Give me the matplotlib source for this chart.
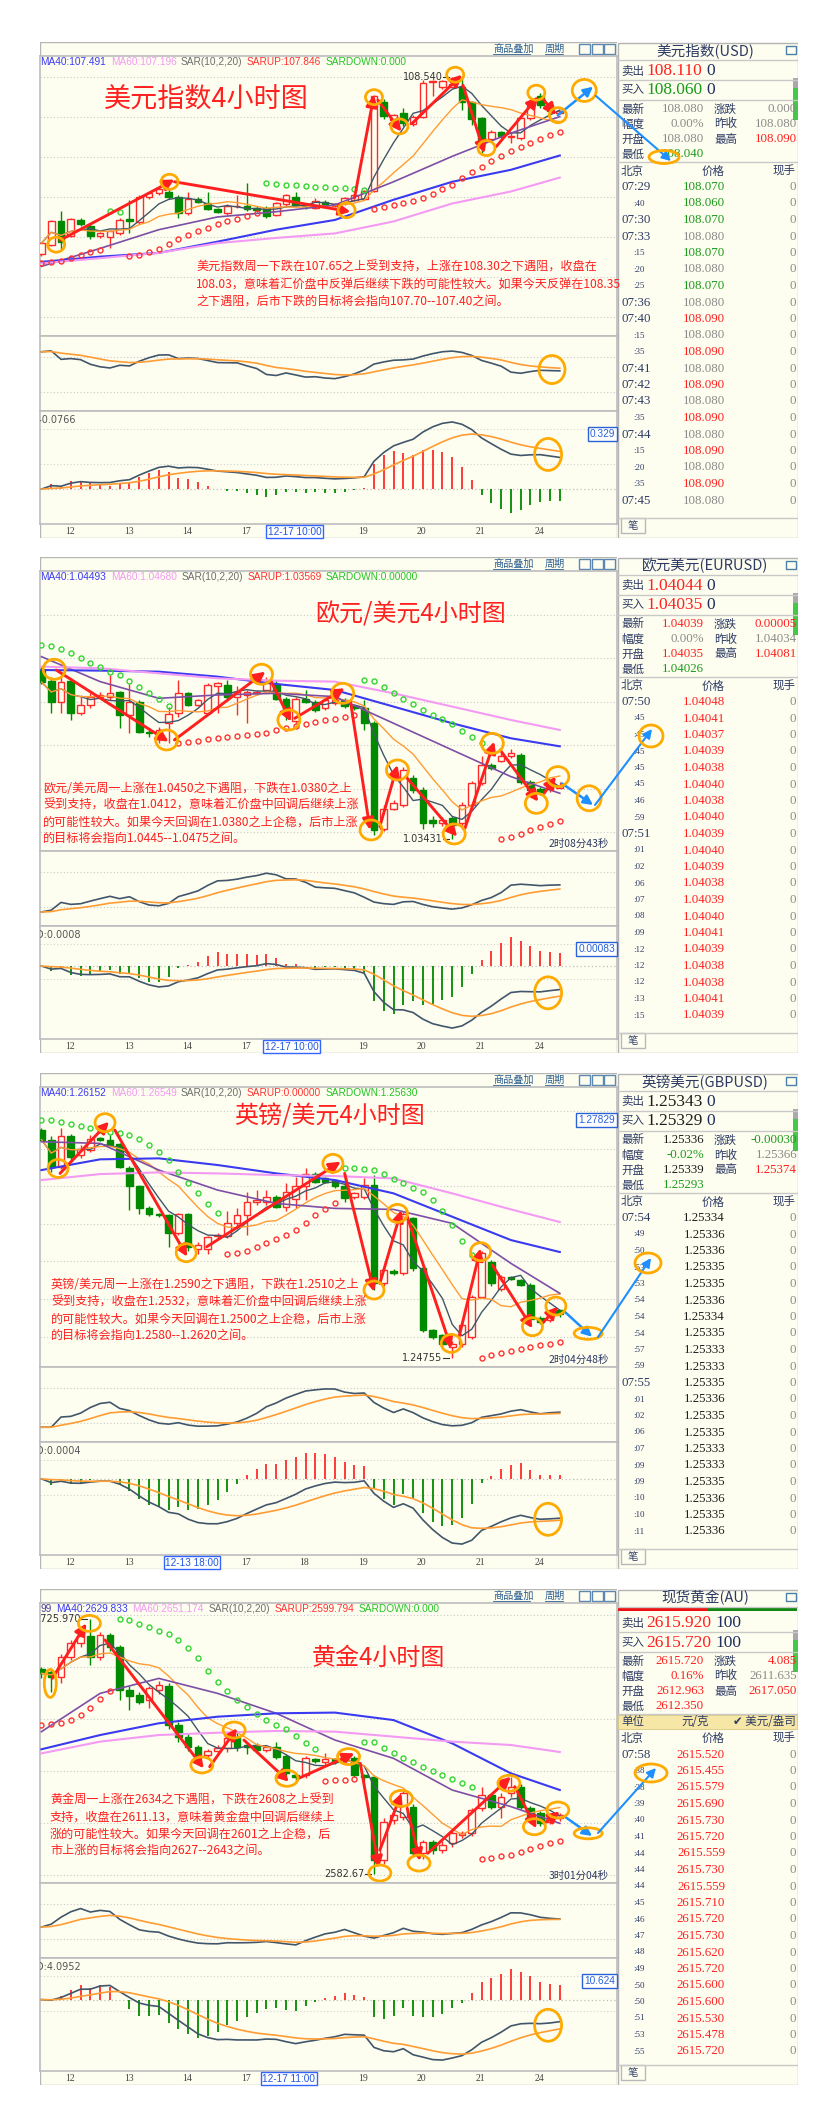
import numpy as np
import pandas as pd
import matplotlib
matplotlib.use("Agg")
import matplotlib.pyplot as plt
from matplotlib.patches import Rectangle, Ellipse, FancyArrowPatch
from matplotlib.transforms import ScaledTranslation

plt.rcParams['font.family'] = ['Noto Sans CJK SC', 'DejaVu Sans']
plt.rcParams['axes.unicode_minus'] = False

# ============================ DATA ============================
ma_idx = [0, 6, 12, 18, 24, 30, 36, 42, 48, 53]

# ---- US dollar index, 4h ----
usd_open = [106.17, 106.30, 106.62, 106.42, 106.63, 106.55, 106.41, 106.40, 106.45, 106.64,
            106.60, 106.93, 106.99, 107.00, 106.94, 106.72, 106.91, 106.86, 106.77, 106.72,
            106.81, 106.81, 106.79, 106.79, 106.70, 106.84, 106.93, 106.83, 106.79, 106.87,
            106.82, 106.85, 106.90, 106.91, 107.02, 108.21, 107.96, 108.06, 107.91, 108.01,
            108.47, 108.40, 108.41, 108.41, 108.20, 107.99, 107.71, 107.80, 107.74, 107.72,
            107.99, 108.28, 108.17, 108.06]
usd_close = [106.32, 106.61, 106.34, 106.64, 106.57, 106.41, 106.45, 106.48, 106.63, 106.61,
             106.94, 106.99, 107.05, 106.93, 106.72, 106.91, 106.87, 106.77, 106.74, 106.82,
             106.82, 106.77, 106.76, 106.68, 106.85, 106.96, 106.83, 106.81, 106.88, 106.83,
             106.84, 106.92, 106.96, 107.02, 108.28, 108.02, 108.03, 107.93, 108.01, 108.46,
             108.48, 108.49, 108.44, 108.21, 107.98, 107.68, 107.80, 107.75, 107.75, 107.99,
             108.17, 108.17, 108.08, 108.08]
usd_high = [106.34, 106.63, 106.75, 106.66, 106.65, 106.57, 106.47, 106.50, 106.65, 106.90,
            106.96, 107.01, 107.07, 107.05, 106.96, 107.01, 106.93, 107.01, 106.79, 106.84,
            106.96, 107.12, 106.81, 106.81, 106.87, 106.98, 107.01, 106.86, 106.92, 106.89,
            106.86, 106.94, 106.98, 107.025, 108.30, 108.25, 108.05, 108.12, 108.03, 108.50,
            108.50, 108.50, 108.54, 108.53, 108.22, 108.01, 107.83, 107.82, 107.80, 108.01,
            108.20, 108.33, 108.19, 108.09]
usd_low = [106.15, 106.28, 106.23, 106.40, 106.55, 106.38, 106.39, 106.25, 106.43, 106.45,
           106.58, 106.91, 106.97, 106.91, 106.65, 106.70, 106.85, 106.76, 106.72, 106.70,
           106.79, 106.75, 106.74, 106.66, 106.68, 106.82, 106.81, 106.78, 106.77, 106.81,
           106.80, 106.83, 106.88, 106.89, 107.00, 107.98, 107.94, 107.88, 107.89, 107.99,
           108.28, 108.38, 108.39, 108.10, 107.90, 107.52, 107.69, 107.73, 107.66, 107.70,
           107.97, 108.12, 108.05, 108.04]
usd_ma20 = [106.01, 106.25, 106.50, 106.67, 106.74, 106.83, 107.14, 107.48, 107.79, 108.01]
usd_ma40 = [106.07, 106.14, 106.19, 106.34, 106.50, 106.63, 106.90, 107.14, 107.30, 107.491]
usd_ma60 = [106.05, 106.12, 106.19, 106.32, 106.39, 106.45, 106.61, 106.85, 107.01, 107.196]
usd_sar_first = 106.06
usd_sar_up, usd_sar_down = 107.846, 0.0

# ---- EUR/USD, 4h ----
eur_open = [1.0537, 1.0524, 1.0500, 1.0524, 1.0487, 1.0497, 1.0506, 1.0506, 1.0511, 1.0485,
            1.0500, 1.0466, 1.0464, 1.0476, 1.0487, 1.0510, 1.0497, 1.0488, 1.0518, 1.0519,
            1.0506, 1.0508, 1.0510, 1.0514, 1.0521, 1.0504, 1.0478, 1.0504, 1.0500, 1.0493,
            1.0499, 1.0502, 1.0495, 1.0493, 1.0476, 1.0355, 1.0378, 1.0382, 1.0413, 1.0399,
            1.0365, 1.0361, 1.0367, 1.0361, 1.0382, 1.0407, 1.0428, 1.0433, 1.0438, 1.0439,
            1.0409, 1.0400, 1.0400, 1.0401]
eur_close = [1.0523, 1.0500, 1.0523, 1.0488, 1.0497, 1.0506, 1.0508, 1.0510, 1.0485, 1.0500,
             1.0466, 1.0464, 1.0468, 1.0486, 1.0510, 1.0497, 1.0502, 1.0520, 1.0522, 1.0506,
             1.0511, 1.0512, 1.0512, 1.0522, 1.0504, 1.0489, 1.0504, 1.0500, 1.0491, 1.0502,
             1.0502, 1.0495, 1.0493, 1.0476, 1.0353, 1.0378, 1.0384, 1.0422, 1.0399, 1.0361,
             1.0361, 1.0365, 1.0359, 1.0382, 1.0407, 1.0428, 1.0424, 1.0438, 1.0442, 1.0409,
             1.0399, 1.0397, 1.0405, 1.04039]
eur_high = [1.0540, 1.0529, 1.0529, 1.0527, 1.0508, 1.0510, 1.0511, 1.0531, 1.0513, 1.0521,
            1.0502, 1.0470, 1.0471, 1.0494, 1.0525, 1.0512, 1.0504, 1.0522, 1.0523, 1.0525,
            1.0518, 1.0514, 1.0514, 1.0529, 1.0525, 1.0506, 1.0506, 1.0514, 1.0502, 1.0504,
            1.0506, 1.0505, 1.0497, 1.0502, 1.0478, 1.0382, 1.0388, 1.0426, 1.0417, 1.0403,
            1.0369, 1.0368, 1.0369, 1.0385, 1.0410, 1.0438, 1.0430, 1.0442, 1.0446, 1.0442,
            1.0411, 1.0403, 1.0410, 1.04081]
eur_low = [1.0521, 1.0488, 1.0487, 1.0480, 1.0485, 1.0493, 1.0504, 1.0502, 1.0470, 1.0464,
           1.0464, 1.0460, 1.0453, 1.0453, 1.0483, 1.0495, 1.0495, 1.0486, 1.0487, 1.0504,
           1.0485, 1.0476, 1.0508, 1.0512, 1.0502, 1.0480, 1.0476, 1.0499, 1.0489, 1.0491,
           1.0497, 1.0493, 1.0491, 1.0468, 1.0348, 1.0352, 1.0376, 1.0380, 1.0396, 1.0355,
           1.0357, 1.0358, 1.03431, 1.0355, 1.0380, 1.0405, 1.0422, 1.0431, 1.0436, 1.0406,
           1.0396, 1.0394, 1.0397, 1.04026]
eur_ma20 = [1.05520, 1.05234, 1.05043, 1.05081, 1.05100, 1.05062, 1.04757, 1.04451, 1.04146, 1.03955]
eur_ma40 = [1.05367, 1.05360, 1.05348, 1.05291, 1.05207, 1.05138, 1.04948, 1.04757, 1.04585, 1.04493]
eur_ma60 = [1.05406, 1.05387, 1.05329, 1.05272, 1.05245, 1.05234, 1.05100, 1.04948, 1.04795, 1.04680]
eur_sar_first = 1.0565
eur_sar_up, eur_sar_down = 1.03569, 0.0

# ---- GBP/USD, 4h ----
gbp_open = [1.2777, 1.2764, 1.2728, 1.2769, 1.2744, 1.2750, 1.2766, 1.2763, 1.2758, 1.2727,
            1.2703, 1.2674, 1.2665, 1.2664, 1.2640, 1.2665, 1.2619, 1.2619, 1.2636, 1.2636,
            1.2654, 1.2664, 1.2682, 1.2682, 1.2688, 1.2675, 1.2686, 1.2702, 1.2719, 1.2713,
            1.2710, 1.2702, 1.2688, 1.2688, 1.2704, 1.2574, 1.2590, 1.2587, 1.2660, 1.2594,
            1.2512, 1.2505, 1.2490, 1.2494, 1.2503, 1.2556, 1.2602, 1.2566, 1.2582, 1.2578,
            1.2572, 1.2528, 1.2525, 1.2538]
gbp_close = [1.2764, 1.2728, 1.2769, 1.2741, 1.2752, 1.2765, 1.2764, 1.2757, 1.2728, 1.2703,
             1.2673, 1.2665, 1.2664, 1.2641, 1.2665, 1.2622, 1.2625, 1.2635, 1.2638, 1.2654,
             1.2664, 1.2682, 1.2684, 1.2688, 1.2675, 1.2695, 1.2703, 1.2719, 1.2708, 1.2708,
             1.2702, 1.2687, 1.2693, 1.2704, 1.2574, 1.2591, 1.2588, 1.2666, 1.2594, 1.2512,
             1.2503, 1.2494, 1.2494, 1.2519, 1.2556, 1.2614, 1.2574, 1.2582, 1.2580, 1.2572,
             1.2527, 1.2523, 1.2536, 1.25336]
gbp_high = [1.2779, 1.2769, 1.2779, 1.2771, 1.2757, 1.2770, 1.2768, 1.2770, 1.2759, 1.2729,
            1.2704, 1.2676, 1.2667, 1.2666, 1.2667, 1.2667, 1.2628, 1.2637, 1.2640, 1.2669,
            1.2673, 1.2695, 1.2697, 1.2697, 1.2690, 1.2706, 1.2715, 1.2727, 1.2721, 1.2715,
            1.2712, 1.2717, 1.2695, 1.2713, 1.2717, 1.2593, 1.2593, 1.2668, 1.2662, 1.2596,
            1.2514, 1.2507, 1.2497, 1.2521, 1.2558, 1.2617, 1.2604, 1.2585, 1.2584, 1.2580,
            1.2574, 1.2530, 1.2538, 1.25374]
gbp_low = [1.2762, 1.2721, 1.2725, 1.2735, 1.2740, 1.2748, 1.2762, 1.2755, 1.2726, 1.2671,
           1.2666, 1.2663, 1.2662, 1.2622, 1.2638, 1.2617, 1.2613, 1.2613, 1.2634, 1.2634,
           1.2645, 1.2638, 1.2677, 1.2677, 1.2673, 1.2669, 1.2673, 1.2684, 1.2706, 1.2706,
           1.2700, 1.2682, 1.2686, 1.2686, 1.2565, 1.2570, 1.2585, 1.2585, 1.2590, 1.2510,
           1.2500, 1.2491, 1.24755, 1.2490, 1.2500, 1.2554, 1.2570, 1.2563, 1.2578, 1.2570,
           1.2524, 1.2520, 1.2523, 1.25293]
gbp_ma20 = [1.27611, 1.27589, 1.27236, 1.26972, 1.26795, 1.26729, 1.26716, 1.26531, 1.26002, 1.25605]
gbp_ma40 = [1.27236, 1.27378, 1.27391, 1.27303, 1.27192, 1.27104, 1.26928, 1.26619, 1.26310, 1.26152]
gbp_ma60 = [1.27104, 1.27183, 1.27205, 1.27192, 1.27170, 1.27157, 1.27126, 1.26928, 1.26716, 1.26549]
gbp_sar_first = 1.2790
gbp_sar_up, gbp_sar_down = 0.0, 1.25630

# ---- Spot gold, 4h ----
gold_open = [2697.6, 2695.9, 2693.5, 2704.7, 2712.2, 2716.3, 2704.7, 2716.9, 2710.3, 2686.0,
             2683.2, 2680.4, 2686.0, 2688.2, 2666.3, 2659.8, 2654.2, 2649.5, 2651.7, 2653.2,
             2659.8, 2655.1, 2655.1, 2652.3, 2654.2, 2649.1, 2638.3, 2638.3, 2647.2, 2645.4,
             2647.1, 2646.7, 2647.6, 2638.3, 2636.9, 2590.5, 2613.0, 2614.9, 2620.5, 2594.3,
             2600.8, 2596.1, 2599.9, 2604.6, 2605.5, 2619.5, 2627.0, 2620.5, 2628.0, 2631.7,
             2619.5, 2616.7, 2612.0, 2613.9]
gold_close = [2695.4, 2693.5, 2704.7, 2712.6, 2716.3, 2704.7, 2716.9, 2710.3, 2686.0, 2682.6,
              2679.4, 2686.9, 2688.8, 2666.3, 2659.8, 2654.2, 2647.6, 2651.7, 2653.6, 2658.8,
              2654.2, 2654.2, 2652.3, 2654.2, 2648.6, 2639.2, 2636.9, 2647.6, 2646.1, 2647.2,
              2645.7, 2648.6, 2638.3, 2636.9, 2590.5, 2612.0, 2615.8, 2628.0, 2594.3, 2600.8,
              2596.1, 2599.0, 2605.5, 2605.9, 2618.6, 2627.0, 2620.5, 2626.1, 2631.7, 2620.5,
              2614.9, 2611.1, 2613.9, 2615.72]
gold_high = [2699.0, 2697.0, 2706.0, 2714.0, 2720.0, 2725.97, 2718.8, 2718.0, 2711.0, 2688.0,
             2685.0, 2688.0, 2691.0, 2690.0, 2668.0, 2661.0, 2655.0, 2653.0, 2655.0, 2661.0,
             2662.0, 2656.0, 2656.0, 2655.0, 2657.0, 2650.0, 2639.5, 2649.0, 2648.0, 2650.4,
             2648.0, 2650.0, 2649.0, 2639.0, 2638.0, 2614.0, 2617.0, 2630.0, 2622.0, 2602.0,
             2602.0, 2601.0, 2607.0, 2607.0, 2620.0, 2631.7, 2628.0, 2628.0, 2637.0, 2633.0,
             2621.0, 2618.0, 2615.0, 2617.05]
gold_low = [2693.0, 2685.1, 2689.7, 2703.0, 2710.0, 2700.0, 2702.8, 2708.0, 2680.4, 2674.8,
            2678.0, 2676.0, 2684.0, 2664.0, 2657.0, 2652.0, 2645.4, 2647.0, 2650.0, 2651.0,
            2652.0, 2650.0, 2650.5, 2651.0, 2647.0, 2637.0, 2635.0, 2636.5, 2645.0, 2644.0,
            2644.5, 2645.5, 2637.0, 2635.0, 2582.67, 2588.0, 2611.0, 2613.0, 2592.0, 2591.0,
            2594.0, 2594.5, 2598.0, 2603.0, 2604.0, 2618.0, 2619.0, 2614.0, 2626.0, 2619.0,
            2613.5, 2609.5, 2611.0, 2612.35]
gold_ma20 = [2662.6, 2684.1, 2692.5, 2684.1, 2672.9, 2657.9, 2647.6, 2629.8, 2620.5, 2611.1]
gold_ma40 = [2652.7, 2660.7, 2667.3, 2671.0, 2672.9, 2673.3, 2669.1, 2656.0, 2639.2, 2629.833]
gold_ma60 = [2650.4, 2657.0, 2660.7, 2662.0, 2663.0, 2662.6, 2659.8, 2657.0, 2655.1, 2651.174]
gold_sar_first = 2666.3
gold_sar_up, gold_sar_down = 2599.794, 0.0

# ---- time axis labels ----
day_labels = ['12', '13', '14', '17', '19', '20', '21', '24']
day_pos = [2.9, 8.9, 14.9, 20.9, 32.9, 38.9, 44.9, 50.9]
gbp_day_labels = ['12', '13', '17', '18', '19', '20', '21', '24']
gbp_day_pos = [2.9, 8.9, 20.9, 26.9, 32.9, 38.9, 44.9, 50.9]

# ---- analyst notes ----
usd_note = ["美元指数周一下跌在107.65之上受到支持，上涨在108.30之下遇阻，收盘在",
            "108.03，意味着汇价盘中反弹后继续下跌的可能性较大。如果今天反弹在108.35",
            "之下遇阻，后市下跌的目标将会指向107.70--107.40之间。"]
eur_note = ["欧元/美元周一上涨在1.0450之下遇阻，下跌在1.0380之上",
            "受到支持，收盘在1.0412，意味着汇价盘中回调后继续上涨",
            "的可能性较大。如果今天回调在1.0380之上企稳，后市上涨",
            "的目标将会指向1.0445--1.0475之间。"]
gbp_note = ["英镑/美元周一上涨在1.2590之下遇阻，下跌在1.2510之上",
            "受到支持，收盘在1.2532，意味着汇价盘中回调后继续上涨",
            "的可能性较大。如果今天回调在1.2500之上企稳，后市上涨",
            "的目标将会指向1.2580--1.2620之间。"]
gold_note = ["黄金周一上涨在2634之下遇阻，下跌在2608之上受到",
             "支持，收盘在2611.13，意味着黄金盘中回调后继续上",
             "涨的可能性较大。如果今天回调在2601之上企稳，后",
             "市上涨的目标将会指向2627--2643之间。"]

# ---- analyst marks (candle index, price) ----
usd_arrows = [(1.9, 106.36, 13.6, 107.17), (13.6, 107.14, 31.6, 106.74), (32.0, 106.92, 34.0, 108.30),
              (34.4, 108.23, 36.8, 107.81), (37.9, 107.92, 43.0, 108.57), (43.1, 108.43, 45.3, 107.52),
              (46.5, 107.61, 50.8, 108.28), (51.2, 108.26, 52.6, 108.03)]
usd_rings = [(1.5, 106.30), (13.1, 107.14), (31.2, 106.76), (34.0, 108.27), (36.6, 107.88),
             (42.3, 108.57), (45.5, 107.59), (50.6, 108.33), (52.8, 108.03), (55.5, 108.36)]
usd_blue = (52.8, 108.03, 56.4, 108.41)

eur_arrows = [(1.5, 1.05367, 13.0, 1.04547), (13.6, 1.04566, 22.9, 1.05348), (23.5, 1.05234, 25.5, 1.04776),
              (25.9, 1.04814, 31.0, 1.05158), (31.6, 1.05005, 33.6, 1.03535), (34.6, 1.03573, 36.4, 1.04279),
              (37.4, 1.04127, 42.5, 1.03459), (43.3, 1.03554, 46.3, 1.04547), (46.9, 1.04451, 50.8, 1.03859),
              (51.4, 1.03955, 52.6, 1.04146)]
eur_rings = [(1.3, 1.05375), (12.8, 1.04566), (22.5, 1.05318), (25.3, 1.04795), (30.8, 1.05100),
             (33.7, 1.03535), (36.4, 1.04222), (42.2, 1.03489), (46.1, 1.04527), (50.6, 1.03840),
             (52.8, 1.04146), (56.0, 1.03898)]
eur_blue = (53.2, 1.04069, 56.4, 1.03821)

gbp_arrows = [(1.9, 1.27192, 6.9, 1.27876), (7.5, 1.27766, 14.9, 1.26090), (16.9, 1.26222, 30.6, 1.27347),
              (31.0, 1.27192, 34.0, 1.25627), (34.6, 1.25737, 36.8, 1.26707), (37.4, 1.26619, 41.9, 1.24877),
              (42.7, 1.25031, 44.9, 1.26200), (46.1, 1.25980, 50.2, 1.25142), (51.2, 1.25208, 52.8, 1.25428)]
gbp_rings = [(1.7, 1.27258), (6.5, 1.27863), (14.8, 1.26143), (29.8, 1.27325), (34.0, 1.25649),
             (36.4, 1.26663), (41.9, 1.24943), (44.9, 1.26156), (50.2, 1.25164), (52.6, 1.25437),
             (55.9, 1.25076)]
gbp_blue = (53.5, 1.25362, 56.3, 1.25031)

gold_arrows = [(1.1, 2692.5, 4.6, 2723.4), (6.5, 2714.1, 16.6, 2642.0), (17.2, 2642.9, 20.0, 2664.5),
               (20.7, 2657.9, 25.3, 2634.5), (26.3, 2636.4, 32.0, 2650.4), (32.6, 2644.8, 34.5, 2586.0),
               (34.6, 2596.1, 36.8, 2628.0), (37.4, 2619.5, 38.7, 2590.0), (39.5, 2594.3, 48.0, 2637.3),
               (48.4, 2631.7, 50.6, 2608.3), (51.4, 2611.1, 53.0, 2617.7)]
gold_rings = [(0.9, 2689.7), (4.9, 2723.4), (16.4, 2643.9), (19.7, 2663.5), (25.1, 2636.4), (31.4, 2648.6),
              (34.6, 2583.2), (36.8, 2625.1), (38.6, 2588.8), (47.8, 2633.6), (50.4, 2609.2),
              (52.8, 2618.6), (55.9, 2605.5)]
gold_blue = (53.5, 2614.9, 56.3, 2604.0)

# ---- quote boards ----
usd_quote = dict(title='美元指数(USD)', sell=108.110, buy=108.060, qty=0, last=108.080, chg=0.000,
                 pct=0.00, prev=108.080, open=108.080, high=108.090, low=108.040, dec=3)
usd_tick_times = ['07:29', ':40', '07:30', '07:33', ':15', ':20', ':25', '07:36', '07:40', ':15',
                  ':35', '07:41', '07:42', '07:43', ':35', '07:44', ':15', ':20', ':35', '07:45']
usd_tick_prices = [108.070, 108.060, 108.070, 108.080, 108.070, 108.080, 108.070, 108.080, 108.090, 108.080,
                   108.090, 108.080, 108.090, 108.080, 108.090, 108.080, 108.090, 108.080, 108.090, 108.080]

eur_quote = dict(title='欧元美元(EURUSD)', sell=1.04044, buy=1.04035, qty=0, last=1.04039, chg=0.00005,
                 pct=0.00, prev=1.04034, open=1.04035, high=1.04081, low=1.04026, dec=5)
eur_tick_times = ['07:50', ':45', ':45', ':45', ':45', ':45', ':46', ':59', '07:51', ':01',
                  ':02', ':06', ':07', ':08', ':09', ':12', ':12', ':12', ':13', ':15']
eur_tick_prices = [1.04048, 1.04041, 1.04037, 1.04039, 1.04038, 1.04040, 1.04038, 1.04040, 1.04039, 1.04040,
                   1.04039, 1.04038, 1.04039, 1.04040, 1.04041, 1.04039, 1.04038, 1.04038, 1.04041, 1.04039]

gbp_quote = dict(title='英镑美元(GBPUSD)', sell=1.25343, buy=1.25329, qty=0, last=1.25336, chg=-0.00030,
                 pct=-0.02, prev=1.25366, open=1.25339, high=1.25374, low=1.25293, dec=5, plain=True)
gbp_tick_times = ['07:54', ':49', ':50', ':53', ':53', ':54', ':54', ':54', ':57', ':59',
                  '07:55', ':01', ':02', ':06', ':07', ':09', ':09', ':10', ':10', ':11']
gbp_tick_prices = [1.25334, 1.25336, 1.25336, 1.25335, 1.25335, 1.25336, 1.25334, 1.25335, 1.25333, 1.25333,
                   1.25335, 1.25336, 1.25335, 1.25335, 1.25333, 1.25333, 1.25335, 1.25336, 1.25335, 1.25336]

gold_quote = dict(title='现货黄金(AU)', sell=2615.920, buy=2615.720, qty=100, last=2615.720, chg=4.085,
                  pct=0.16, prev=2611.635, open=2612.963, high=2617.050, low=2612.350, dec=3)
gold_tick_times = ['07:58', ':38', ':38', ':39', ':40', ':41', ':44', ':44', ':44', ':45',
                   ':46', ':47', ':48', ':49', ':50', ':50', ':51', ':53', ':55']
gold_tick_prices = [2615.520, 2615.455, 2615.579, 2615.690, 2615.730, 2615.720, 2615.559, 2615.730,
                    2615.559, 2615.710, 2615.720, 2615.730, 2615.620, 2615.720, 2615.600, 2615.600,
                    2615.530, 2615.478, 2615.720]

# ============================ STYLE ============================
W, H = 840, 2125
BG = '#fefef0'
C_UP, C_DN = '#ff2b2b', '#008a00'
C_MA5, C_MA10, C_MA20, C_MA40, C_MA60 = '#41566b', '#ff9c33', '#7d4ea6', '#3a3af0', '#f39af3'
C_SAR_UP, C_SAR_DN = '#ff3333', '#33d633'
C_ARROW, C_RING, C_BLUE = '#ff1f1f', '#ffaa00', '#1e8fff'
C_NOTE = '#ff2020'
C_QUP, C_QDN, C_QEQ = '#ff2020', '#1a9a1a', '#8a8a8a'
NAVY = '#2d3a64'
X0, XR, XP = 40, 617, 798
CW = XR - X0
PX = 9.78                     # pixels per candle
XMIN = -0.15
XMAX = XMIN + CW / PX

fig = plt.figure(figsize=(W / 100, H / 100), dpi=100)
fig.patch.set_facecolor('white')


def frect(x, y, w, h):
    return [x / W, 1 - (y + h) / H, w / W, h / H]


def ftxt(x, y, s, **kw):
    return fig.text(x / W, 1 - y / H, s, **kw)


def sar_cn(h, l, bull, s0, n=10, step=0.02, amax=0.2):
    """SAR(n, 2, 20): parabolic stop-and-reverse, reversal level = n-bar extreme."""
    N = len(h)
    s = np.empty(N)
    up = np.empty(N, bool)
    s[0] = s0
    up[0] = bull
    ep = h[0] if bull else l[0]
    af = step
    for i in range(1, N):
        cur = s[i - 1] + af * (ep - s[i - 1])
        lo = max(0, i - n + 1)
        if bull:
            if l[i] < cur:
                bull, cur, ep, af = False, h[lo:i + 1].max(), l[i], step
            elif h[i] > ep:
                ep, af = h[i], min(af + step, amax)
        else:
            if h[i] > cur:
                bull, cur, ep, af = True, l[lo:i + 1].min(), h[i], step
            elif l[i] < ep:
                ep, af = l[i], min(af + step, amax)
        s[i] = cur
        up[i] = bull
    return s, up


def ring(ax, x, y, w, h, lw=2.0):
    tr = fig.dpi_scale_trans + ScaledTranslation(x, y, ax.transData)
    ax.add_patch(Ellipse((0, 0), w / 100, h / 100, transform=tr, fill=False,
                         ec=C_RING, lw=lw, zorder=9))


def style_ax(ax):
    ax.set_facecolor(BG)
    ax.set_xticks([])
    ax.set_yticks([])
    for sp in ax.spines.values():
        sp.set_color('#bdbdbd')
        sp.set_linewidth(1.2)


def draw_chart(top, P):
    o = np.asarray(P['open'], float)
    c = np.asarray(P['close'], float)
    h = np.asarray(P['high'], float)
    l = np.asarray(P['low'], float)
    n = len(o)
    xs = np.arange(n)
    d = P['dec']

    # panel background + toolbar
    bg = fig.add_axes(frect(X0, top, CW, 496))
    bg.set_xlim(0, CW)
    bg.set_ylim(496, 0)
    bg.axis('off')
    bg.add_patch(Rectangle((0, 0), CW, 496, fc=BG, ec='#b5b5b5', lw=1))
    bg.plot([0, CW], [14, 14], color='#c8c8c8', lw=1)
    bg.text(453, 7, '商品叠加', fontsize=7.3, color='#2b5d8f', va='center')
    bg.plot([453, 490], [12, 12], color='#2b5d8f', lw=0.6)
    bg.text(505, 7, '周期', fontsize=7.3, color='#2b5d8f', va='center')
    bg.plot([505, 523], [12, 12], color='#2b5d8f', lw=0.6)
    for k in range(3):
        bg.add_patch(Rectangle((539 + 12.5 * k, 1.5), 11, 10.5, fill=False, ec='#5b87b0', lw=1))

    # ---- main price area ----
    ax = fig.add_axes(frect(X0, top + 14, CW, 280))
    style_ax(ax)
    ax.set_xlim(XMIN, XMAX)
    ax.set_ylim(*P['ylim'])
    g0, gs = P['grid']
    for k in range(8):
        yy = g0 + gs * k
        if yy < 278:
            f = 1 - yy / 280
            ax.plot([0, 1], [f, f], transform=ax.transAxes, ls=(0, (1, 2)), color='#c9c9c9', lw=0.8, zorder=1)

    rng = P['ylim'][1] - P['ylim'][0]
    for i in range(n):
        upc = c[i] >= o[i]
        col = C_UP if upc else C_DN
        ax.plot([i, i], [l[i], h[i]], color=col, lw=1, zorder=3, solid_capstyle='butt')
        lo_, hi_ = min(o[i], c[i]), max(o[i], c[i])
        ax.add_patch(Rectangle((i - 0.34, lo_), 0.68, max(hi_ - lo_, rng * 0.003),
                               fc=BG if upc else C_DN, ec=col, lw=1, zorder=4))

    cs = pd.Series(c)
    ax.plot(xs, cs.rolling(5, min_periods=1).mean(), color=C_MA5, lw=1, zorder=5)
    ax.plot(xs, cs.rolling(10, min_periods=1).mean(), color=C_MA10, lw=1, zorder=5)
    ax.plot(ma_idx, P['ma20'], color=C_MA20, lw=1.2, zorder=5)
    ax.plot(ma_idx, P['ma40'], color=C_MA40, lw=1.5, zorder=5)
    ax.plot(ma_idx, P['ma60'], color=C_MA60, lw=1.5, zorder=5)

    sar, sup = sar_cn(h, l, P['bull0'], P['sar_first'])
    ax.plot(xs[sup], sar[sup], 'o', ms=3.6, mfc='none', mec=C_SAR_UP, mew=1, zorder=5)
    ax.plot(xs[~sup], sar[~sup], 'o', ms=3.6, mfc='none', mec=C_SAR_DN, mew=1, zorder=5)

    # extreme labels
    for kind, fmt in P['extremes']:
        if kind == 'high':
            i = int(np.argmax(h)); v = h[i]
        else:
            i = int(np.argmin(l)); v = l[i]
        ax.text(i - 1.0, v, format(v, fmt), ha='right', va='center', fontsize=7, color='#333333',
                family='DejaVu Sans', zorder=7, clip_on=True)
        ax.plot([i - 0.95, i - 0.35], [v, v], color='#333333', lw=0.8, zorder=7)

    # analyst marks
    for (a0, p0, a1, p1) in P['arrows']:
        ax.add_patch(FancyArrowPatch((a0, p0), (a1, p1), arrowstyle='-|>', mutation_scale=17,
                                     color=C_ARROW, lw=2.1, shrinkA=0, shrinkB=0, zorder=8))
    rw, rh = P['ring']
    for (ri, rp) in P['rings'][:-1]:
        ring(ax, ri, rp, rw, rh)
    bi, bp = P['rings'][-1]
    ring(ax, bi, bp, *P['blue_ring'])
    b0, q0, b1, q1 = P['blue']
    ax.add_patch(FancyArrowPatch((b0, q0), (b1, q1), arrowstyle='-|>', mutation_scale=14,
                                 color=C_BLUE, lw=1.8, shrinkA=0, shrinkB=0, zorder=8))
    for extra in P.get('extra_rings', []):
        ring(ax, *extra)
    ax.set_xlim(XMIN, XMAX)
    ax.set_ylim(*P['ylim'])

    # legend line
    items = []
    if P.get('legend_prefix'):
        items.append((P['legend_prefix'], '#4a3a9a'))
    items += [(f"MA40:{P['ma40'][-1]:.{d}f}", C_MA40), (f"MA60:{P['ma60'][-1]:.{d}f}", C_MA60),
              ('SAR(10,2,20)', '#6e6e6e'), (f"SARUP:{P['sar_up']:.{d}f}", C_SAR_UP),
              (f"SARDOWN:{P['sar_dn']:.{d}f}", '#25c425')]
    t = ftxt(X0 + 0.5, top + 20, items[0][0], fontsize=7.3, color=items[0][1], va='center',
             family='Liberation Sans')
    for s, col in items[1:]:
        t = ax.annotate(s, xy=(1, 0.5), xycoords=t, xytext=(3.2, 0), textcoords='offset points',
                        va='center', ha='left', fontsize=7.3, color=col, family='Liberation Sans')

    # title + note
    tx, ty = P['title_xy']
    ftxt(tx, ty, P['title'], ha='center', va='center', fontsize=P['title_fs'], color='#ff2020')
    nx, ny = P['note_xy']
    for k, line in enumerate(P['note']):
        ftxt(nx, ny + 16.8 * k, line, ha='left', va='center', fontsize=8.7, color=C_NOTE)
    if P.get('countdown'):
        ftxt(609, top + 287, P['countdown'], ha='right', va='center', fontsize=7.5, color=NAVY)
    if P.get('main_box'):
        ftxt(615, top + 47, P['main_box'], ha='right', va='center', fontsize=7.3, color='#2a62d8',
             family='Liberation Sans', bbox=dict(boxstyle='square,pad=0.2', fc='white', ec='#2a62d8', lw=1))

    # ---- sub panel 1: stochastic ----
    ax1 = fig.add_axes(frect(X0, top + 294, CW, 75))
    style_ax(ax1)
    ax1.set_xlim(XMIN, XMAX)
    hh = pd.Series(h).rolling(14, min_periods=1).max()
    ll = pd.Series(l).rolling(14, min_periods=1).min()
    rsv = ((cs - ll) / (hh - ll).replace(0, np.nan) * 100).fillna(50)
    kk = rsv.ewm(alpha=0.25, adjust=False).mean()
    dd = kk.ewm(alpha=0.2, adjust=False).mean()
    ax1.set_ylim(-14, 117)
    for gv in (80, 20):
        ax1.axhline(gv, ls=(0, (1, 2)), color='#c9c9c9', lw=0.8)
    ax1.plot(xs, kk, color=C_MA5, lw=1.2, zorder=4)
    ax1.plot(xs, dd, color=C_MA10, lw=1.2, zorder=4)
    if P.get('k_ring'):
        ring(ax1, n - 1 - 0.8, (kk.iloc[-1] + dd.iloc[-1]) / 2, 26, 28)

    # ---- sub panel 2: MACD ----
    ax2 = fig.add_axes(frect(X0, top + 369, CW, 113))
    style_ax(ax2)
    ax2.set_xlim(XMIN, XMAX)
    dif = cs.ewm(span=12, adjust=False).mean() - cs.ewm(span=26, adjust=False).mean()
    dea = dif.ewm(span=9, adjust=False).mean()
    hist = 2 * (dif - dea)
    lo = min(dif.min(), dea.min(), hist.min())
    hi = max(dif.max(), dea.max(), hist.max())
    pad = (hi - lo) * 0.12
    ax2.set_ylim(lo - pad, hi + pad)
    ax2.axhline(0, ls=(0, (1, 2)), color='#bdbdbd', lw=0.9)
    for f in (0.84, 0.53):
        ax2.plot([0, 1], [f, f], transform=ax2.transAxes, ls=(0, (1, 2)), color='#d2d2d2', lw=0.8)
    ax2.vlines(xs, 0, hist, colors=[C_UP if v >= 0 else C_DN for v in hist], lw=1.3, zorder=3)
    ax2.plot(xs, dif, color=C_MA5, lw=1.2, zorder=4)
    ax2.plot(xs, dea, color=C_MA10, lw=1.2, zorder=4)
    ring(ax2, n - 1 - 1.2, (dif.iloc[-1] + dea.iloc[-1]) / 2, 27, 32)
    ax2.text(-0.007, 0.92, P['macd_label'], transform=ax2.transAxes, fontsize=7, color='#555555',
             va='center', ha='left', family='DejaVu Sans', clip_on=True)
    if P.get('value_box'):
        ftxt(615, top + 392, P['value_box'], ha='right', va='center', fontsize=7.3, color='#2a62d8',
             family='Liberation Sans', bbox=dict(boxstyle='square,pad=0.2', fc='white', ec='#2a62d8', lw=1))

    # ---- time axis ----
    axx = fig.add_axes(frect(X0, top + 482, CW, 14))
    axx.set_xlim(XMIN, XMAX)
    axx.set_ylim(0, 1)
    axx.axis('off')
    for lab, p in zip(P['days'], P['day_pos']):
        axx.text(p, 0.45, lab, ha='center', va='center', fontsize=7, color='#444444', family='Liberation Serif')
    bl, bp = P['box']
    axx.text(bp, 0.45, bl, ha='center', va='center', fontsize=7.2, color='#2255dd', family='Liberation Sans',
             bbox=dict(boxstyle='square,pad=0.15', fc='white', ec='#3366ff', lw=1))


def draw_quote(top, Q, times, prices, gold=False):
    ax = fig.add_axes(frect(XR, top, XP - XR, 496))
    ax.set_xlim(0, XP - XR)
    ax.set_ylim(496, 0)
    ax.axis('off')
    wq = XP - XR
    ax.add_patch(Rectangle((0.5, 0.5), wq - 1, 495, fc=BG, ec='#b3b3b3', lw=1))
    prev = Q['prev']
    d = Q['dec']
    plain = Q.get('plain', False)

    def col(v):
        if plain:
            return '#1e1e1e'
        if v > prev + 1e-9:
            return C_QUP
        if v < prev - 1e-9:
            return C_QDN
        return C_QEQ

    def scol(v):
        return C_QUP if v > 0 else (C_QDN if v < 0 else C_QEQ)

    a1 = 5 if gold else 0
    a2 = 20.5 if gold else 0
    ax.text(88, 9, Q['title'], ha='center', va='center', fontsize=10.5, color=NAVY)
    ax.add_patch(Rectangle((169, 3.5), 10, 8, fill=False, ec='#4b7ea8', lw=1))
    ax.plot([1, wq - 1], [18, 18], color='#c8c8c8', lw=1)
    if gold:
        ax.add_patch(Rectangle((1, 18.5), 89, 3, fc='#ee1111', ec='none'))
        ax.add_patch(Rectangle((90, 18.5), 90, 3, fc='#118811', ec='none'))
    for yy, lab, v in ((29 + a1, '卖出', Q['sell']), (48 + a1 + (1 if gold else 0), '买入', Q['buy'])):
        ax.text(4, yy, lab, va='center', fontsize=8.3, color=NAVY)
        t = ax.text(29, yy, f"{v:.{d}f}", va='center', fontsize=12.5, color=col(v), family='Liberation Serif')
        ax.annotate(str(Q['qty']), xy=(1, 0.5), xycoords=t, xytext=(3, 0), textcoords='offset points',
                    va='center', fontsize=12.5, color='#1f2f5f', family='Liberation Serif')
    for yy in (38 + a1, 58 + a1, 120 + a1):
        ax.plot([1, wq - 1], [yy, yy], color='#c8c8c8', lw=1)
    hi_col = C_QUP if Q['high'] > prev else col(Q['high'])
    lo_col = C_QDN if (plain and Q['low'] < prev) else col(Q['low'])
    rows = [(67, '最新', f"{Q['last']:.{d}f}", col(Q['last']), '涨跌', f"{Q['chg']:.{d}f}", scol(Q['chg'])),
            (82, '幅度', f"{Q['pct']:.2f}%", scol(Q['pct']), '昨收', f"{prev:.{d}f}", C_QEQ),
            (97, '开盘', f"{Q['open']:.{d}f}", col(Q['open']), '最高', f"{Q['high']:.{d}f}", hi_col),
            (112, '最低', f"{Q['low']:.{d}f}", lo_col, None, None, None)]
    for (yy, l1, v1, c1, l2, v2, c2) in rows:
        yy = yy + a1
        ax.text(4, yy, l1, va='center', fontsize=8.3, color=NAVY)
        ax.text(87, yy, v1, va='center', ha='right', fontsize=9.3, color=c1, family='Liberation Serif')
        if l2:
            ax.text(97, yy, l2, va='center', fontsize=8.3, color=NAVY)
            ax.text(180, yy, v2, va='center', ha='right', fontsize=9.3, color=c2, family='Liberation Serif')
    if gold:
        ax.add_patch(Rectangle((1, 125.5), wq - 2, 14, fc='#f6e7a6', ec='#d8c880', lw=0.6))
        ax.text(4, 132.5, '单位', va='center', fontsize=8.3, color=NAVY)
        ax.text(78, 132.5, '元/克', va='center', ha='center', fontsize=8.3, color=NAVY)
        ax.text(179, 132.5, '✔ 美元/盎司', va='center', ha='right', fontsize=8.3, color=NAVY,
                family=['Noto Sans CJK SC', 'DejaVu Sans'])
    hy = 129 + a2
    ax.text(4, hy, '北京', va='center', fontsize=8.3, color=NAVY)
    ax.text(108, hy, '价格', va='center', ha='right', fontsize=8.3, color=NAVY)
    ax.text(179, hy, '现手', va='center', ha='right', fontsize=8.3, color=NAVY)
    for k, (tm, pr) in enumerate(zip(times, prices)):
        yy = 145 + a2 + 16.5 * k
        if len(tm) > 3:
            ax.text(4, yy, tm, va='center', fontsize=9.3, color=NAVY, family='Liberation Serif')
        else:
            ax.text(16, yy, tm, va='center', fontsize=6.5, color=NAVY, family='Liberation Serif')
        ax.text(108, yy, f"{pr:.{d}f}", va='center', ha='right', fontsize=9.3, color=col(pr),
                family='Liberation Serif')
        ax.text(179, yy, '0', va='center', ha='right', fontsize=9.3, color=C_QEQ, family='Liberation Serif')
    # scrollbar
    ax.add_patch(Rectangle((176, 36 + a1), 4.5, 10, fc='#a9a9a9', ec='none'))
    ax.add_patch(Rectangle((176, 46 + a1), 4.5, 32, fc='#45c845', ec='none'))
    # bottom tab
    ax.plot([1, wq - 1], [476, 476], color='#c8c8c8', lw=1)
    ax.add_patch(Rectangle((4, 476), 24, 15, fc=BG, ec='#b8b8b8', lw=1))
    ax.text(16, 484, '笔', va='center', ha='center', fontsize=7.5, color=NAVY)


panels = [
    dict(open=usd_open, close=usd_close, high=usd_high, low=usd_low, ma20=usd_ma20, ma40=usd_ma40,
         ma60=usd_ma60, sar_up=usd_sar_up, sar_dn=usd_sar_down, sar_first=usd_sar_first, dec=3, bull0=True,
         ylim=(105.08, 108.82),
         grid=(21, 40), title='美元指数4小时图', title_xy=(206, 100), title_fs=19.5, note=usd_note,
         note_xy=(196, 267), arrows=usd_arrows, rings=usd_rings, ring=(17, 15), blue_ring=(24, 22),
         blue=usd_blue, extremes=[('high', '.3f')], countdown=None, macd_label=':-0.0766', value_box='0.329',
         k_ring=True, days=day_labels, day_pos=day_pos, box=('12-17 10:00', 25.9)),
    dict(open=eur_open, close=eur_close, high=eur_high, low=eur_low, ma20=eur_ma20, ma40=eur_ma40,
         ma60=eur_ma60, sar_up=eur_sar_up, sar_dn=eur_sar_down, sar_first=eur_sar_first, dec=5, bull0=False,
         ylim=(1.03294, 1.06501),
         grid=(44, 43.4), title='欧元/美元4小时图', title_xy=(411, 615), title_fs=17.3, note=eur_note,
         note_xy=(43, 788), arrows=eur_arrows, rings=eur_rings, ring=(22, 20), blue_ring=(24, 25),
         blue=eur_blue, extremes=[('low', '.5f')], countdown='2时08分43秒', macd_label='D:0.0008',
         value_box='0.00083', days=day_labels, day_pos=day_pos, box=('12-17 10:00', 25.6)),
    dict(open=gbp_open, close=gbp_close, high=gbp_high, low=gbp_low, ma20=gbp_ma20, ma40=gbp_ma40,
         ma60=gbp_ma60, sar_up=gbp_sar_up, sar_dn=gbp_sar_down, sar_first=gbp_sar_first, dec=5, bull0=False,
         ylim=(1.24631, 1.28335),
         grid=(24, 37.6), title='英镑/美元4小时图', title_xy=(329, 1117), title_fs=17.3, note=gbp_note,
         note_xy=(51, 1285), arrows=gbp_arrows, rings=gbp_rings, ring=(20, 18), blue_ring=(28, 12),
         blue=gbp_blue, extremes=[('low', '.5f')], countdown='2时04分48秒', macd_label='D:0.0004',
         value_box=None, main_box='1.27829', days=gbp_day_labels, day_pos=gbp_day_pos,
         box=('12-13 18:00', 15.4)),
    dict(open=gold_open, close=gold_close, high=gold_high, low=gold_low, ma20=gold_ma20, ma40=gold_ma40,
         ma60=gold_ma60, sar_up=gold_sar_up, sar_dn=gold_sar_down, sar_first=gold_sar_first, dec=3, bull0=True,
         ylim=(2577.6, 2734.85),
         grid=(12, 52), title='黄金4小时图', title_xy=(378, 1658), title_fs=17.3, note=gold_note,
         note_xy=(50, 1800), arrows=gold_arrows, rings=gold_rings[1:], ring=(22, 16), blue_ring=(28, 11),
         blue=gold_blue, extremes=[('low', '.2f'), ('high', '.3f')], countdown='3时01分04秒',
         macd_label='D:4.0952', value_box='10.624', legend_prefix='99',
         extra_rings=[(gold_rings[0][0], gold_rings[0][1], 12, 28)],
         days=day_labels, day_pos=day_pos, box=('12-17 11:00', 25.3)),
]
quotes = [(usd_quote, usd_tick_times, usd_tick_prices, False),
          (eur_quote, eur_tick_times, eur_tick_prices, False),
          (gbp_quote, gbp_tick_times, gbp_tick_prices, False),
          (gold_quote, gold_tick_times, gold_tick_prices, True)]
TOPS = [42, 557, 1073, 1589]

for top, P, (Q, tt, tp, g) in zip(TOPS, panels, quotes):
    draw_chart(top, P)
    draw_quote(top, Q, tt, tp, gold=g)

# blue links from the charts into the quote boards (figure pixels)
ov = fig.add_axes([0, 0, 1, 1])
ov.set_xlim(0, W)
ov.set_ylim(H, 0)
ov.axis('off')
ov.set_zorder(20)
ov.patch.set_alpha(0)
links = [((596, 96), (671, 161), (664, 157, 30, 13)),
         ((595, 805), (652, 729), (651, 736, 24, 22)),
         ((598, 1337), (651, 1258), (648, 1263, 26, 20)),
         ((598, 1833), (656, 1768), (651, 1773, 32, 18))]
for (p0, p1, (ex, ey, ew, eh)) in links:
    ov.add_patch(FancyArrowPatch(p0, p1, arrowstyle='-|>', mutation_scale=13, color=C_BLUE, lw=1.5,
                                 shrinkA=0, shrinkB=0))
    ov.add_patch(Ellipse((ex, ey), ew, eh, fill=False, ec=C_RING, lw=2))

fig.savefig('out.png', dpi=100, facecolor='white')
